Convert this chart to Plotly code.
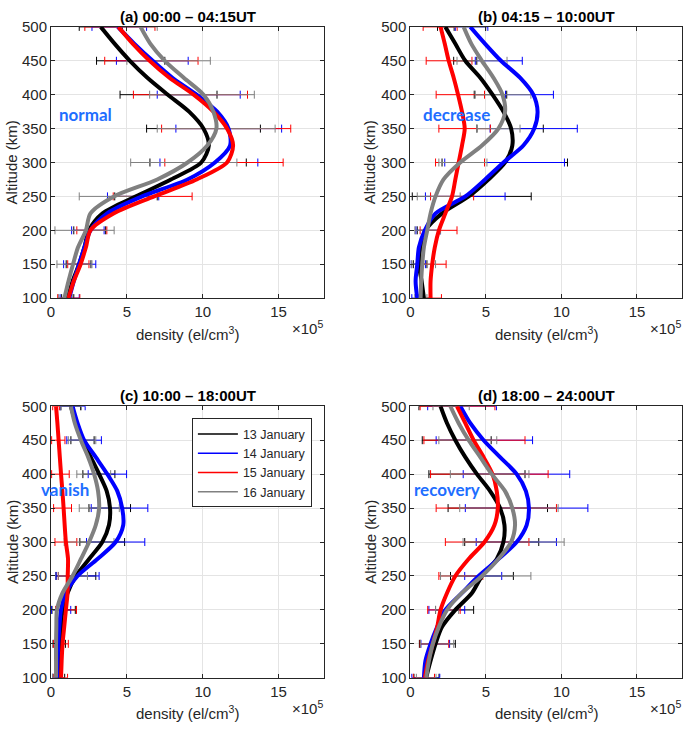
import plotly.graph_objects as go

W, H = 685, 732

# ---------------- data (density in units of 1e5 el/cm^3) ----------------
ALT = [100, 125, 150, 175, 200, 225, 250, 275, 300, 325, 350, 375, 400, 425, 450, 475, 500]
ERR_ALT = [100, 150, 200, 250, 300, 350, 400, 450, 500]
DAYS = ["13 January", "14 January", "15 January", "16 January"]
COLORS = ["#000000", "#0000ff", "#ff0000", "#808080"]

# panel (a) 00:00-04:15UT
A_13 = [1.1, 1.42, 1.85, 2.2, 2.5, 3.4, 5.6, 7.9, 9.9, 10.4, 10.05, 9.1, 7.7, 6.35, 5.2, 4.2, 3.28]
A_14 = [1.2, 1.5, 1.85, 2.2, 2.6, 3.7, 6.0, 9.0, 10.8, 11.8, 11.7, 10.95, 9.6, 8.0, 6.7, 5.5, 4.4]
A_15 = [1.15, 1.5, 1.95, 2.3, 2.6, 4.15, 6.8, 9.6, 11.6, 12.0, 11.6, 10.7, 9.4, 7.8, 6.5, 5.4, 4.44]
A_16 = [0.88, 1.15, 1.45, 1.78, 2.3, 2.6, 4.15, 7.0, 9.0, 10.3, 10.9, 10.7, 10.05, 8.75, 7.5, 6.55, 5.9]
A_13_LO = [0.7, 1.0, 1.5, 4.2, 6.52, 6.3, 4.55, 3.0, 1.86]
A_13_HI = [1.5, 2.63, 3.6, 7.0, 12.87, 13.8, 10.94, 7.5, 4.7]
A_14_LO = [0.6, 0.83, 1.36, 3.72, 7.18, 8.23, 7.0, 4.31, 2.7]
A_14_HI = [1.86, 2.95, 3.5, 7.1, 13.63, 15.2, 12.47, 9.04, 6.3]
A_15_LO = [0.44, 1.1, 1.7, 4.1, 7.5, 7.29, 5.43, 3.54, 2.23]
A_15_HI = [1.9, 2.5, 3.68, 9.3, 15.3, 15.8, 12.95, 9.69, 6.85]
A_16_LO = [0.5, 0.39, 0.26, 1.86, 5.25, 7.0, 6.5, 5.0, 4.5]
A_16_HI = [1.4, 2.7, 4.16, 6.35, 12.25, 14.77, 13.4, 10.5, 7.0]

# panel (b) 04:15-10:00UT
B_13 = [0.9, 0.75, 0.57, 0.68, 1.0, 2.1, 3.86, 5.17, 6.27, 6.75, 6.67, 6.16, 5.44, 4.63, 3.64, 2.98, 2.32]
B_14 = [0.46, 0.35, 0.46, 0.57, 0.96, 1.67, 3.64, 4.95, 6.16, 7.48, 8.2, 8.42, 8.14, 7.26, 6.0, 4.95, 3.97]
B_15 = [1.34, 1.34, 1.45, 1.62, 1.89, 2.32, 2.76, 2.98, 3.2, 3.42, 3.6, 3.42, 3.16, 2.87, 2.54, 2.28, 2.0]
B_16 = [0.68, 0.72, 0.79, 0.9, 1.12, 1.34, 1.67, 2.2, 3.3, 4.74, 5.83, 6.27, 6.1, 5.5, 4.74, 4.04, 3.53]
B_13_LO = [0.5, 0.2, 0.46, 0.13, 2.1, 4.41, 4.23, 2.87, 1.8]
B_13_HI = [1.3, 1.1, 1.9, 8.0, 10.4, 8.8, 6.38, 4.4, 2.9]
B_14_LO = [0.1, 0.05, 0.37, 1.0, 2.28, 5.28, 6.3, 4.3, 2.98]
B_14_HI = [0.9, 1.0, 2.0, 6.27, 10.2, 11.05, 9.47, 7.41, 5.13]
B_15_LO = [0.6, 0.55, 0.65, 1.34, 1.67, 1.89, 1.71, 1.05, 0.85]
B_15_HI = [2.06, 2.37, 3.09, 4.19, 4.91, 5.3, 4.91, 4.08, 3.1]
B_16_LO = [0.3, 0.1, 0.3, 0.46, 1.89, 4.4, 4.3, 3.09, 2.0]
B_16_HI = [1.1, 1.67, 2.0, 3.3, 5.07, 7.26, 7.98, 6.4, 5.0]

# panel (c) 10:00-18:00UT
C_13 = [0.55, 0.58, 0.61, 0.66, 0.76, 1.09, 1.64, 2.51, 3.38, 3.82, 3.89, 3.67, 3.17, 2.62, 2.07, 1.65, 1.3]
C_14 = [0.39, 0.43, 0.48, 0.55, 0.66, 0.98, 1.75, 3.06, 4.26, 4.76, 4.69, 4.37, 3.71, 2.95, 2.18, 1.75, 1.42]
C_15 = [0.66, 0.7, 0.76, 0.87, 0.98, 1.09, 1.1, 1.12, 0.98, 0.9, 0.83, 0.75, 0.66, 0.58, 0.5, 0.42, 0.33]
C_16 = [0.33, 0.33, 0.33, 0.35, 0.39, 0.76, 1.42, 1.97, 2.51, 2.95, 3.17, 3.1, 2.84, 2.45, 1.97, 1.57, 1.31]
C_13_LO = [0.2, 0.3, 0.0, 0.33, 1.9, 2.5, 2.1, 1.31, 0.65]
C_13_HI = [0.9, 0.95, 1.6, 2.95, 4.85, 5.24, 4.21, 2.84, 1.95]
C_14_LO = [0.1, 0.2, 0.04, 0.33, 2.34, 2.65, 2.45, 1.04, 0.6]
C_14_HI = [0.7, 0.8, 1.3, 3.17, 6.18, 6.38, 4.98, 3.32, 2.25]
C_15_LO = [0.2, 0.17, 0.3, 0.48, 0.26, 0.17, 0.04, 0.04, 0.11]
C_15_HI = [1.09, 1.14, 1.68, 1.64, 1.7, 1.35, 1.2, 0.92, 0.55]
C_16_LO = [0.1, 0.1, 0.1, 0.48, 0.87, 1.86, 1.7, 1.14, 0.65]
C_16_HI = [0.6, 0.6, 0.7, 2.4, 4.15, 4.5, 3.93, 2.95, 2.0]

# panel (d) 18:00-24:00UT
D_13 = [1.05, 1.34, 1.67, 2.1, 2.98, 4.08, 4.74, 5.72, 6.16, 6.23, 5.94, 5.28, 4.41, 3.64, 2.98, 2.43, 2.0]
D_14 = [0.9, 1.0, 1.34, 1.78, 2.32, 3.42, 4.52, 5.83, 7.04, 7.7, 7.85, 7.65, 7.04, 5.94, 4.85, 3.97, 3.31]
D_15 = [0.96, 1.18, 1.49, 1.78, 2.0, 2.43, 2.98, 3.86, 4.91, 5.57, 5.79, 5.72, 5.44, 4.85, 4.19, 3.64, 3.09]
D_16 = [1.05, 1.23, 1.49, 1.89, 2.43, 3.42, 4.74, 5.83, 6.67, 6.93, 6.75, 6.27, 5.39, 4.63, 3.86, 3.2, 2.65]
D_13_LO = [0.24, 0.6, 1.67, 2.66, 3.6, 2.5, 1.23, 0.79, 0.57]
D_13_HI = [1.9, 2.98, 4.19, 6.82, 8.5, 9.08, 7.59, 5.35, 3.45]
D_14_LO = [0.1, 0.7, 1.23, 3.6, 4.36, 3.64, 3.5, 1.71, 1.15]
D_14_HI = [1.95, 2.6, 3.6, 6.05, 9.67, 11.75, 10.55, 8.09, 5.7]
D_15_LO = [0.2, 0.65, 1.15, 1.89, 2.32, 1.71, 1.34, 0.9, 0.65]
D_15_HI = [1.6, 2.54, 3.3, 4.8, 7.85, 9.67, 9.12, 7.59, 5.6]
D_16_LO = [0.4, 0.68, 1.67, 2.0, 3.49, 3.27, 2.65, 1.89, 1.5]
D_16_HI = [1.7, 2.87, 3.2, 7.98, 10.18, 9.78, 7.85, 5.72, 3.9]

TITLES = ["(a) 00:00 \u2013 04:15UT", "(b) 04:15 \u2013 10:00UT",
          "(c) 10:00 \u2013 18:00UT", "(d) 18:00 \u2013 24:00UT"]
LABELS = ["normal", "decrease", "vanish", "recovery"]

PANELS = [
    ([A_13, A_14, A_15, A_16], [(A_13_LO, A_13_HI), (A_14_LO, A_14_HI), (A_15_LO, A_15_HI), (A_16_LO, A_16_HI)]),
    ([B_13, B_14, B_15, B_16], [(B_13_LO, B_13_HI), (B_14_LO, B_14_HI), (B_15_LO, B_15_HI), (B_16_LO, B_16_HI)]),
    ([C_13, C_14, C_15, C_16], [(C_13_LO, C_13_HI), (C_14_LO, C_14_HI), (C_15_LO, C_15_HI), (C_16_LO, C_16_HI)]),
    ([D_13, D_14, D_15, D_16], [(D_13_LO, D_13_HI), (D_14_LO, D_14_HI), (D_15_LO, D_15_HI), (D_16_LO, D_16_HI)]),
]

# ---------------- layout geometry (pixels) ----------------
XPIX = [(47.3, 322.0), (408.7, 682.3), (47.3, 322.0), (408.7, 682.3)]
YPIX = [(18.3, 296.0), (18.3, 296.0), (406.7, 684.7), (406.7, 684.7)]


def px(x):
    return x / W


def py(y):
    return 1 - y / H


fig = go.Figure()
FONT = "Liberation Sans, Arial, sans-serif"
AXCOL = "#262626"

for i, (curves, errs) in enumerate(PANELS):
    xa = "x" if i == 0 else f"x{i+1}"
    ya = "y" if i == 0 else f"y{i+1}"
    # error bars first (underneath)
    for d, (lo, hi) in enumerate(errs):
        centers = [(a + b) / 2 for a, b in zip(lo, hi)]
        half = [(b - a) / 2 for a, b in zip(lo, hi)]
        fig.add_trace(go.Scatter(
            x=centers, y=ERR_ALT, xaxis=xa, yaxis=ya, mode="markers",
            marker=dict(size=2, opacity=0, color=COLORS[d]),
            error_x=dict(type="data", symmetric=True, array=half,
                         color=COLORS[d], thickness=1, width=4),
            showlegend=False, hoverinfo="skip"))
    for d, vals in enumerate(curves):
        fig.add_trace(go.Scatter(
            x=vals, y=ALT, xaxis=xa, yaxis=ya, mode="lines",
            line=dict(color=COLORS[d], width=4, shape="spline", smoothing=0.8),
            name=DAYS[d], showlegend=False))

# legend entries (thin line samples, as in the reference legend)
for d in range(4):
    fig.add_trace(go.Scatter(
        x=[None], y=[None], xaxis="x3", yaxis="y3", mode="lines",
        line=dict(color=COLORS[d], width=1.5), name=DAYS[d], showlegend=True))

layout = dict(
    width=W, height=H, margin=dict(l=0, r=0, t=0, b=0),
    paper_bgcolor="white", plot_bgcolor="white",
    font=dict(family=FONT, size=15, color=AXCOL),
    legend=dict(x=px(189), y=py(419), xanchor="left", yanchor="top",
                bordercolor=AXCOL, borderwidth=1, bgcolor="white",
                font=dict(size=12.5, color=AXCOL), tracegroupgap=0,
                itemwidth=40),
)

for i in range(4):
    sx = "" if i == 0 else str(i + 1)
    layout["xaxis" + sx] = dict(
        domain=[px(XPIX[i][0]), px(XPIX[i][1])], anchor="y" + sx,
        range=[0, 18], tickvals=[0, 5, 10, 15], ticktext=["0", "5", "10", "15"],
        showgrid=True, gridcolor="#e4e4e4", gridwidth=1, zeroline=False,
        showline=True, linecolor=AXCOL, linewidth=1, mirror="allticks",
        ticks="inside", ticklen=4, tickcolor=AXCOL,
        tickfont=dict(size=15, color=AXCOL, family=FONT), fixedrange=True)
    layout["yaxis" + sx] = dict(
        domain=[py(YPIX[i][1]), py(YPIX[i][0])], anchor="x" + sx,
        range=[100, 500], tickvals=list(range(100, 501, 50)),
        showgrid=True, gridcolor="#e4e4e4", gridwidth=1, zeroline=False,
        showline=True, linecolor=AXCOL, linewidth=1, mirror="allticks",
        ticks="inside", ticklen=4, tickcolor=AXCOL,
        tickfont=dict(size=15, color=AXCOL, family=FONT), fixedrange=True)

fig.update_layout(**layout)

ann = []
LABEL_POS = [(53, 108), (419, 108), (35, 492), (410, 492)]
for i in range(4):
    x0, x1 = XPIX[i]
    y0, y1 = YPIX[i]
    cx = (x0 + x1) / 2
    # title
    ann.append(dict(text="<b>" + TITLES[i] + "</b>", x=px(cx), y=py(y0 - 10.5),
                    xref="paper", yref="paper", showarrow=False,
                    xanchor="center", yanchor="middle",
                    font=dict(size=15, color="#000000", family=FONT)))
    # x label
    ann.append(dict(text="density (el/cm<sup>3</sup>)", x=px(cx), y=py(y1 + 36),
                    xref="paper", yref="paper", showarrow=False,
                    xanchor="center", yanchor="middle",
                    font=dict(size=15, color=AXCOL, family=FONT)))
    ann.append(dict(text="\u00d710<sup>5</sup>", x=px(min(x1, 683)), y=py(y1 + 30),
                    xref="paper", yref="paper", showarrow=False,
                    xanchor="right", yanchor="middle", borderpad=0,
                    font=dict(size=15, color=AXCOL, family=FONT)))
    # y label
    yx = 8 if i % 2 == 0 else 368
    ann.append(dict(text="Altitude (km)", x=px(yx), y=py((y0 + y1) / 2),
                    xref="paper", yref="paper", showarrow=False, textangle=-90,
                    xanchor="center", yanchor="middle",
                    font=dict(size=15, color=AXCOL, family=FONT)))
    # state label
    lx, ly = LABEL_POS[i]
    ann.append(dict(text="<b>" + LABELS[i] + "</b>", x=px(lx), y=py(ly),
                    xref="paper", yref="paper", showarrow=False,
                    xanchor="left", yanchor="middle",
                    font=dict(size=17, color="#1E6EFF", family="Lato, Open Sans, sans-serif")))

fig.update_layout(annotations=ann)
fig.write_html("out.html",
               config={"displayModeBar": False, "staticPlot": True},
               post_script="document.body.style.margin='0px';"
                           "document.body.style.overflow='hidden';")
